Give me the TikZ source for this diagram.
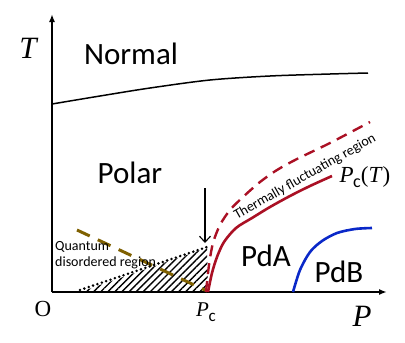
\documentclass[tikz,border=0pt]{standalone}
\usepackage{fontspec}
\setmainfont{Carlito}
\newfontfamily\serifO{Liberation Serif}
\newcommand{\PcSym}[1]{{\serifO\itshape P}\kern-0.5pt\raisebox{-0.22em}{\fontsize{#1}{#1}\selectfont c}}
\usetikzlibrary{arrows.meta,patterns.meta}
\definecolor{pdred}{RGB}{170,16,36}
\definecolor{pdblue}{RGB}{10,40,200}
\definecolor{pdolive}{RGB}{127,96,0}
\begin{document}
\begin{tikzpicture}[x=1pt,y=-1pt,
  axis/.style={line width=1.8pt,-{Latex[length=8pt,width=6pt]}},
  phase/.style={font=\fontsize{31}{34}\selectfont},
  small/.style={font=\fontsize{14}{16}\selectfont},
  mathlbl/.style={font=\fontsize{31}{32}\selectfont\serifO\itshape},
  redline/.style={pdred,line width=2.6pt},
  reddash/.style={pdred,line width=2.4pt,dash pattern=on 11pt off 7pt},
  olivedash/.style={pdolive,line width=3pt,dash pattern=on 14pt off 9pt},
  dotline/.style={line width=2.8pt,line cap=round,dash pattern=on 0pt off 4.6pt},
]
\useasboundingbox (0,0) rectangle (405,343);
% hatched quantum disordered region
\fill[pattern={Lines[angle=45,distance=5pt,line width=1.4pt]}] (80,292) -- (207,248) -- (208,292) -- cycle;
% axes
\coordinate (O) at (52,292);
\coordinate (Ttop) at (52,14);
\coordinate (Pend) at (387,292);
\draw[axis] (O) -- (Ttop);
\draw[axis] (O) -- (Pend);
% Normal-Polar line
\draw[line width=1.5pt] plot[smooth] coordinates {(52,104) (100,96) (150,88) (210,80) (270,76) (330,74) (368,73)};
% dotted boundary of quantum region
\coordinate (dotA) at (80,290);
\coordinate (dotB) at (207,247);
\draw[dotline] (dotA) -- (dotB);
% olive dashed
\coordinate (olA) at (77,230);
\coordinate (olB) at (207,291);
\draw[olivedash] (olA) -- (olB);
% red dashed crossover
\draw[reddash] plot[smooth] coordinates {(206,292) (209,265) (213,243) (220,225) (230,210) (243,197) (260,182) (277,170) (297,159) (330,143) (370,122)};
% red solid Pc(T)
\draw[redline] plot[smooth] coordinates {(208,292) (212,273) (217,257) (224,242) (236,228) (252,218) (270,207) (290,196) (310,186) (332,176)};
% blue PdA-PdB line
\draw[pdblue,line width=2.6pt] plot[smooth] coordinates {(293,292) (300,270) (310,252) (322,241) (337,233) (355,229) (372,228)};
% arrow
\coordinate (arrTop) at (205,188);
\coordinate (arrTip) at (205,243);
\draw[line width=1.1pt,-{Straight Barb[length=6pt,width=11pt]}] (arrTop) -- (arrTip);
% labels
\node[phase] (normal) at (131,54) {Normal};
\node[phase] (polar) at (130,173) {Polar};
\node[phase] (pda) at (266,256) {PdA};
\node[phase] (pdb) at (339,272) {PdB};
\node[small,rotate=29.5,inner sep=0pt] (thermal) at (305,177) {Thermally fluctuating region};
\node[small,anchor=west,align=left,inner sep=0pt] (quantum) at (55,255) {Quantum\\disordered region};
\node[mathlbl] (Tlbl) at (28,48) {T};
\node[mathlbl] (Plbl) at (362,316) {P};
\node[font=\fontsize{21}{24}\selectfont] (Pc) at (206,312) {\PcSym{17}};
\node[font=\fontsize{23}{26}\selectfont,inner sep=1pt] (PcT) at (365,177) {\PcSym{18}{\serifO(\itshape T\/\upshape)}};
\node[font=\fontsize{23}{24}\selectfont\serifO] (Olbl) at (43,309) {O};
\end{tikzpicture}
\end{document}
